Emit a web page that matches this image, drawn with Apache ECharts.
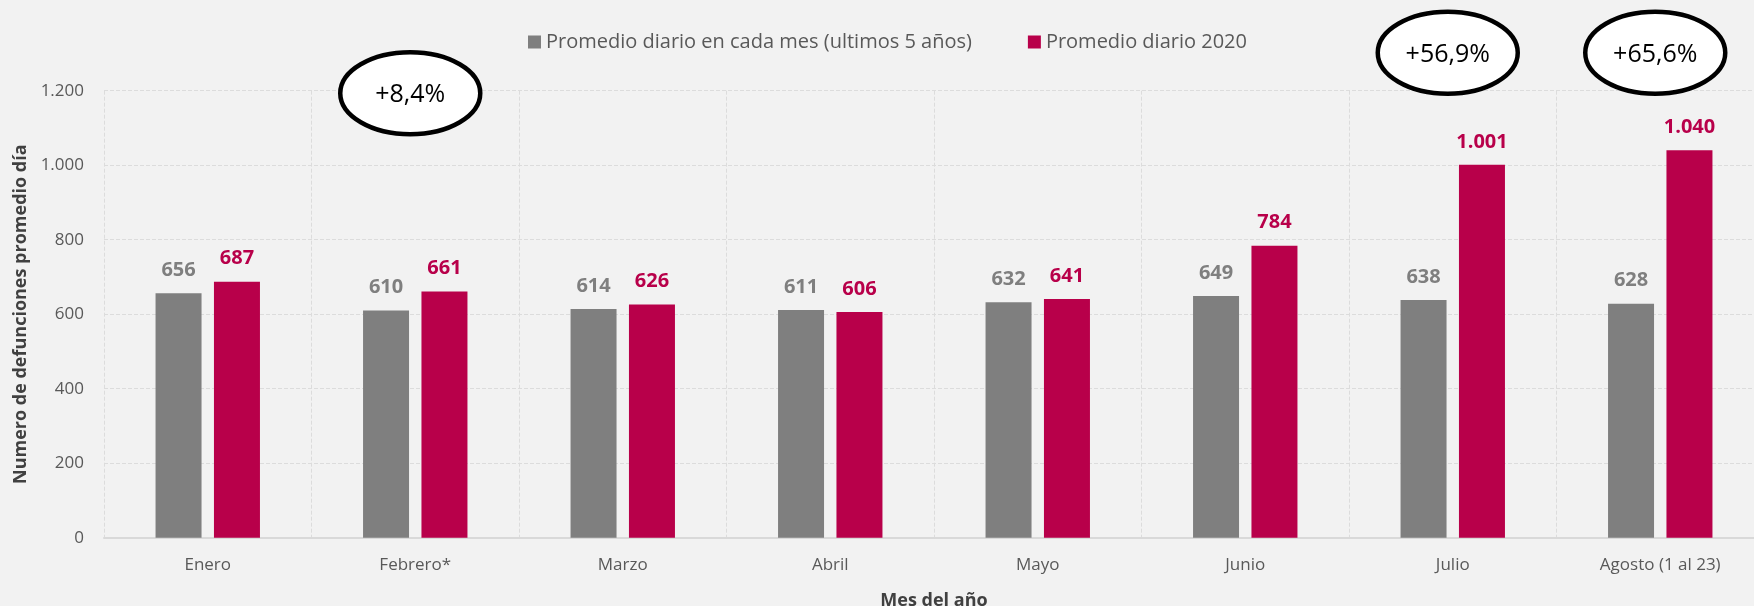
<!DOCTYPE html>
<html>
<head>
<meta charset="utf-8">
<script src="https://cdn.jsdelivr.net/npm/echarts@6/dist/echarts.min.js"></script>
<style>
  html, body { margin: 0; padding: 0; background: #f2f2f2; }
  #main { width: 1754px; height: 606px; }
</style>
</head>
<body>
<div id="main"></div>
<script>
const months = ['Enero', 'Febrero*', 'Marzo', 'Abril', 'Mayo', 'Junio', 'Julio', 'Agosto (1 al 23)']
const avg5Years = [656, 610, 614, 611, 632, 649, 638, 628]
const avg2020 = [687, 661, 626, 606, 641, 784, 1001, 1040]
const yTicks = [0, 200, 400, 600, 800, 1000, 1200]
// meses con el circulo de variacion
const highlighted = [1, 6, 7]

const FONT = 'Open Sans'
const GRAY = '#7f7f7f'
const RED = '#b8004a'

function fmt (v) {
  return String(v).replace(/\B(?=(\d{3})+(?!\d))/g, '.')
}

function pct (i) {
  const p = (avg2020[i] / avg5Years[i] - 1) * 100
  return '+' + p.toFixed(1).replace('.', ',') + '%'
}

const chart = echarts.init(document.getElementById('main'))

const option = {
  backgroundColor: '#f2f2f2',
  textStyle: { fontFamily: FONT },
  animation: false,
  legend: {
    top: 27,
    left: 523,
    icon: 'rect',
    itemWidth: 13,
    itemHeight: 13,
    itemGap: 56,
    textStyle: { fontFamily: FONT, fontSize: 20, color: '#595959' },
    data: ['Promedio diario en cada mes (ultimos 5 años)', 'Promedio diario 2020']
  },
  grid: {
    left: 104,
    right: -10,
    top: 90.7,
    bottom: 68.3,
    containLabel: false,
    outerBoundsMode: 'none'
  },
  xAxis: {
    type: 'category',
    data: months,
    name: 'Mes del año',
    nameLocation: 'middle',
    nameGap: 54,
    nameTextStyle: { fontFamily: FONT, fontSize: 18, fontWeight: 'bold', color: '#404040' },
    axisTick: { show: false },
    axisLine: { lineStyle: { color: '#d9d9d9', width: 2 } },
    axisLabel: { fontFamily: FONT, fontSize: 17, color: '#595959', margin: 19, interval: 0 },
    splitLine: { show: true, interval: 0, lineStyle: { color: '#dcdcdc', type: 'dashed' } }
  },
  yAxis: {
    type: 'value',
    min: yTicks[0],
    max: yTicks[yTicks.length - 1],
    interval: yTicks[1] - yTicks[0],
    name: 'Numero de defunciones promedio día',
    nameLocation: 'middle',
    nameGap: 73,
    nameTextStyle: { fontFamily: FONT, fontSize: 18, fontWeight: 'bold', color: '#404040' },
    axisLine: { show: false },
    axisTick: { show: false },
    axisLabel: { fontFamily: FONT, fontSize: 17, color: '#595959', margin: 20, formatter: fmt },
    splitLine: { lineStyle: { color: '#dcdcdc', type: 'dashed' } }
  },
  series: [
    {
      name: 'Promedio diario en cada mes (ultimos 5 años)',
      type: 'bar',
      data: avg5Years,
      barWidth: 46,
      barGap: '27%',
      itemStyle: { color: GRAY },
      label: {
        show: true,
        position: 'top',
        distance: 13,
        fontFamily: FONT,
        fontSize: 20,
        fontWeight: 'bold',
        color: GRAY,
        formatter: p => fmt(p.value)
      }
    },
    {
      name: 'Promedio diario 2020',
      type: 'bar',
      data: avg2020,
      barWidth: 46,
      itemStyle: { color: RED },
      label: {
        show: true,
        position: 'top',
        distance: 13,
        fontFamily: FONT,
        fontSize: 20,
        fontWeight: 'bold',
        color: RED,
        formatter: p => fmt(p.value)
      }
    }
  ]
}

chart.setOption(option)

// ovalos con la variacion 2020 vs promedio, sobre el mes
const ovals = highlighted.map(i => {
  const level = i === 1 ? 1193 : 1302
  const pos = chart.convertToPixel({ xAxisIndex: 0, yAxisIndex: 0 }, [i, level])
  return {
    type: 'group',
    x: pos[0] - 5,
    y: pos[1],
    children: [
      {
        type: 'ellipse',
        shape: { cx: 0, cy: 0, rx: 70, ry: 41 },
        style: { fill: '#ffffff', stroke: '#000000', lineWidth: 4.5 }
      },
      {
        type: 'text',
        x: 0,
        y: 2,
        style: {
          text: pct(i),
          fontFamily: FONT,
          fontSize: 25,
          fill: '#000000',
          align: 'center',
          verticalAlign: 'middle'
        }
      }
    ]
  }
})

chart.setOption({ graphic: ovals })
</script>
</body>
</html>
